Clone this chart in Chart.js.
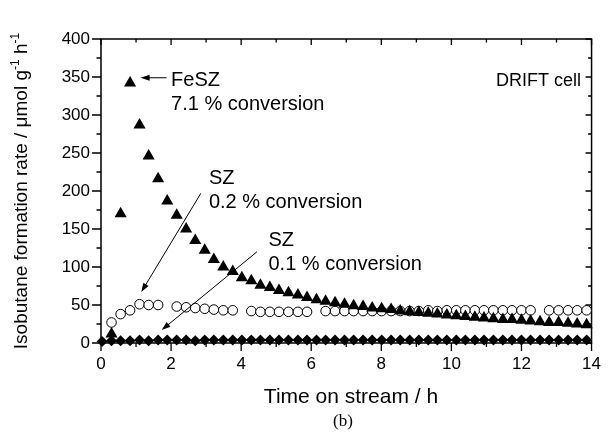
<!DOCTYPE html>
<html>
<head>
<meta charset="utf-8">
<script src="https://cdn.jsdelivr.net/npm/chart.js@4.4.1/dist/chart.umd.min.js"></script>
<style>
  html, body { margin: 0; padding: 0; background: #fff; }
  #wrap { width: 612px; height: 432px; }
</style>
</head>
<body>
<div id="wrap"><canvas id="chart" width="612" height="432"></canvas></div>
<script>
// FeSZ, 7.1 % conversion (filled triangles)
const timeFeSZ = [0.30, 0.56, 0.83, 1.10, 1.36, 1.63, 1.89, 2.16, 2.43, 2.69, 2.96, 3.22, 3.49, 3.76,
  4.02, 4.29, 4.55, 4.82, 5.08, 5.35, 5.62, 5.88, 6.15, 6.41, 6.68, 6.95, 7.21, 7.48, 7.74, 8.01,
  8.28, 8.54, 8.81, 9.07, 9.34, 9.60, 9.87, 10.14, 10.40, 10.67, 10.93, 11.20, 11.47, 11.73, 12.00,
  12.26, 12.53, 12.79, 13.06, 13.33, 13.59, 13.86];
const rateFeSZ = [12, 170, 342, 287, 246, 216, 187, 168, 150, 135, 122, 110, 100, 94,
  86, 82, 76, 73, 69, 66, 63, 60, 57, 55, 53, 51, 49, 48, 46, 45,
  44, 42, 41, 40, 39, 38, 37, 36, 35, 34, 33, 32, 31, 31, 30,
  29, 28, 27, 27, 26, 25, 24];

// SZ, 0.2 % conversion (open circles)
const timeSZ02 = [0.30, 0.56, 0.83, 1.10, 1.36, 1.63,
  2.16, 2.43, 2.69, 2.96, 3.22, 3.49, 3.76,
  4.29, 4.55, 4.82, 5.08, 5.35, 5.62, 5.88,
  6.41, 6.68, 6.95, 7.21, 7.48, 7.74, 8.01, 8.28, 8.54, 8.81, 9.07, 9.34, 9.60, 9.87,
  10.14, 10.40, 10.67, 10.93, 11.20, 11.47, 11.73, 12.00, 12.26,
  12.79, 13.06, 13.33, 13.59, 13.86];
const rateSZ02 = [27, 38, 43, 51, 50, 50,
  48, 47, 46, 45, 44, 43, 43,
  42, 41, 41, 41, 41, 41, 41,
  42, 42, 42, 42, 42, 42, 42, 42, 42, 42, 42, 43, 42, 43,
  43, 43, 43, 43, 43, 43, 43, 43, 43,
  43, 43, 43, 43, 43];

// SZ, 0.1 % conversion (filled diamonds)
const timeSZ01 = [0.03, 0.30, 0.56, 0.83, 1.10, 1.36, 1.63, 1.89, 2.16, 2.43, 2.69, 2.96, 3.22, 3.49, 3.76,
  4.02, 4.29, 4.55, 4.82, 5.08, 5.35, 5.62, 5.88, 6.15, 6.41, 6.68, 6.95, 7.21, 7.48, 7.74, 8.01,
  8.28, 8.54, 8.81, 9.07, 9.34, 9.60, 9.87, 10.14, 10.40, 10.67, 10.93, 11.20, 11.47, 11.73, 12.00,
  12.26, 12.53, 12.79, 13.06, 13.33, 13.59, 13.86];
const rateSZ01 = [2, 3, 3, 3, 4, 3, 4, 4, 4, 4, 3, 4, 4, 4, 4,
  4, 4, 4, 4, 4, 4, 4, 4, 4, 4, 4, 4, 4, 4, 4, 4,
  4, 4, 4, 4, 4, 4, 4, 4, 4, 4, 4, 4, 4, 4, 4,
  4, 4, 4, 4, 4, 4, 4];

const xMajor = [0, 2, 4, 6, 8, 10, 12, 14];
const xMinor = [1, 3, 5, 7, 9, 11, 13];
const yMajor = [0, 50, 100, 150, 200, 250, 300, 350, 400];
const yMinor = [25, 75, 125, 175, 225, 275, 325, 375];

const FONT = '"Liberation Sans", Arial, sans-serif';

function toPoints(xs, ys) {
  return xs.map((x, i) => ({ x: x, y: ys[i] }));
}

// annotation text and arrows, anchored in data units
const notes = [
  { lines: ['FeSZ', '7.1 % conversion'], at: [2.0, 338], from: [1.87, 349], to: [1.13, 349] },
  { lines: ['SZ', '0.2 % conversion'], at: [3.08, 209], from: [2.85, 197], to: [1.15, 67] },
  { lines: ['SZ', '0.1 % conversion'], at: [4.78, 127], from: [4.45, 120], to: [1.73, 17] }
];

function arrow(ctx, x1, y1, x2, y2) {
  const a = Math.atan2(y2 - y1, x2 - x1);
  const len = 9, half = 3;
  ctx.beginPath();
  ctx.moveTo(x1, y1);
  ctx.lineTo(x2 - Math.cos(a) * len * 0.8, y2 - Math.sin(a) * len * 0.8);
  ctx.stroke();
  ctx.beginPath();
  ctx.moveTo(x2, y2);
  ctx.lineTo(x2 - Math.cos(a) * len + Math.sin(a) * half, y2 - Math.sin(a) * len - Math.cos(a) * half);
  ctx.lineTo(x2 - Math.cos(a) * len - Math.sin(a) * half, y2 - Math.sin(a) * len + Math.cos(a) * half);
  ctx.closePath();
  ctx.fill();
}

const framePlugin = {
  id: 'frame',
  beforeDatasetsDraw(chart) {
    const ctx = chart.ctx;
    const { left, right, top, bottom } = chart.chartArea;
    const xs = chart.scales.x, ys = chart.scales.y;
    ctx.save();
    ctx.strokeStyle = '#000';
    ctx.lineWidth = 1.5;
    ctx.strokeRect(left, top, right - left, bottom - top);
    ctx.lineWidth = 1.3;
    ctx.beginPath();
    xMajor.forEach(v => {
      const px = xs.getPixelForValue(v);
      ctx.moveTo(px, bottom); ctx.lineTo(px, bottom + 8);
      ctx.moveTo(px, top); ctx.lineTo(px, top + 6);
    });
    xMinor.forEach(v => {
      const px = xs.getPixelForValue(v);
      ctx.moveTo(px, bottom); ctx.lineTo(px, bottom + 4);
      ctx.moveTo(px, top); ctx.lineTo(px, top + 3.5);
    });
    yMajor.forEach(v => {
      const py = ys.getPixelForValue(v);
      ctx.moveTo(left, py); ctx.lineTo(left - 9, py);
      ctx.moveTo(right, py); ctx.lineTo(right - 6, py);
    });
    yMinor.forEach(v => {
      const py = ys.getPixelForValue(v);
      ctx.moveTo(left, py); ctx.lineTo(left - 4.5, py);
      ctx.moveTo(right, py); ctx.lineTo(right - 3.5, py);
    });
    ctx.stroke();
    ctx.restore();
  },
  afterDraw(chart) {
    const ctx = chart.ctx;
    const xs = chart.scales.x, ys = chart.scales.y;
    ctx.save();
    ctx.fillStyle = '#000';
    ctx.strokeStyle = '#000';
    ctx.lineWidth = 1;

    // annotations
    ctx.font = '20px ' + FONT;
    ctx.textAlign = 'left';
    ctx.textBaseline = 'alphabetic';
    notes.forEach(n => {
      const tx = xs.getPixelForValue(n.at[0]);
      const ty = ys.getPixelForValue(n.at[1]);
      n.lines.forEach((s, i) => ctx.fillText(s, tx, ty + i * 24));
      arrow(ctx, xs.getPixelForValue(n.from[0]), ys.getPixelForValue(n.from[1]),
        xs.getPixelForValue(n.to[0]), ys.getPixelForValue(n.to[1]));
    });
    ctx.font = '18px ' + FONT;
    ctx.textAlign = 'right';
    ctx.fillText('DRIFT cell', xs.getPixelForValue(13.7), ys.getPixelForValue(338));

    // x title and panel label
    ctx.textAlign = 'center';
    ctx.font = '21px ' + FONT;
    ctx.fillText('Time on stream / h', 351, 403);
    ctx.font = '17px "Liberation Serif", "Times New Roman", serif';
    ctx.fillText('(b)', 343, 426);

    // y title with superscripts
    const parts = [['Isobutane formation rate / \u03bcmol g', false], ['-1', true], [' h', false], ['-1', true]];
    const bigFont = '19px ' + FONT, supFont = '12px ' + FONT;
    let total = 0;
    parts.forEach(p => { ctx.font = p[1] ? supFont : bigFont; total += ctx.measureText(p[0]).width; });
    ctx.translate(27, (chart.chartArea.top + chart.chartArea.bottom) / 2);
    ctx.rotate(-Math.PI / 2);
    ctx.textAlign = 'left';
    let cx = -total / 2;
    parts.forEach(p => {
      ctx.font = p[1] ? supFont : bigFont;
      ctx.fillText(p[0], cx, p[1] ? -8 : 0);
      cx += ctx.measureText(p[0]).width;
    });
    ctx.restore();
  }
};

new Chart(document.getElementById('chart'), {
  type: 'scatter',
  data: {
    datasets: [
      {
        label: 'SZ 0.1 % conversion',
        data: toPoints(timeSZ01, rateSZ01),
        pointStyle: 'rectRot',
        pointRadius: 5.5,
        backgroundColor: '#000',
        borderColor: '#000',
        borderWidth: 0,
        clip: false
      },
      {
        label: 'FeSZ 7.1 % conversion',
        data: toPoints(timeFeSZ, rateFeSZ),
        pointStyle: 'triangle',
        pointRadius: 7,
        backgroundColor: '#000',
        borderColor: '#000',
        borderWidth: 0,
        clip: false
      },
      {
        label: 'SZ 0.2 % conversion',
        data: toPoints(timeSZ02, rateSZ02),
        pointStyle: 'circle',
        pointRadius: 4.8,
        backgroundColor: '#fff',
        borderColor: '#000',
        borderWidth: 1,
        clip: false
      }
    ]
  },
  options: {
    responsive: false,
    animation: false,
    devicePixelRatio: 1,
    layout: { padding: { left: 0, top: 39, right: 10, bottom: 0 } },
    plugins: {
      legend: { display: false },
      tooltip: { enabled: false }
    },
    scales: {
      x: {
        type: 'linear',
        min: 0,
        max: 14,
        afterFit(scale) { scale.height = 89; },
        grid: { display: false, drawTicks: false },
        border: { display: false },
        ticks: { stepSize: 2, padding: 11, color: '#000', font: { family: FONT, size: 17 } }
      },
      y: {
        min: 0,
        max: 400,
        afterFit(scale) { scale.width = 101; },
        grid: { display: false, drawTicks: false },
        border: { display: false },
        ticks: { stepSize: 50, padding: 11, color: '#000', font: { family: FONT, size: 17 } }
      }
    }
  },
  plugins: [framePlugin]
});
</script>
</body>
</html>
